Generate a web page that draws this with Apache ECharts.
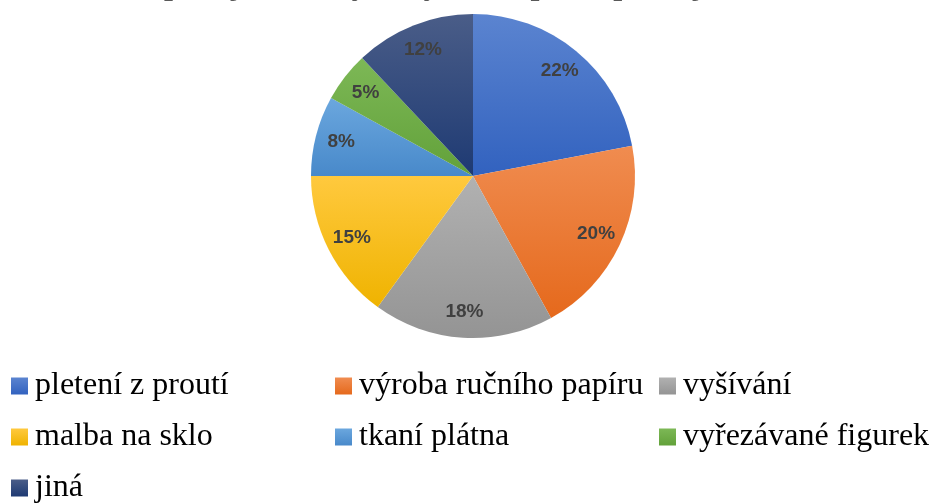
<!DOCTYPE html>
<html>
<head>
<meta charset="utf-8">
<script src="https://cdn.jsdelivr.net/npm/echarts@6/dist/echarts.min.js"></script>
<style>html,body{margin:0;padding:0;background:#fff}#c{width:933px;height:504px}</style>
</head>
<body>
<div id="c"></div>
<script>
var categories = ['pletení z proutí', 'výroba ručního papíru', 'vyšívání', 'malba na sklo', 'tkaní plátna', 'vyřezávané figurek', 'jiná'];
var values = [22, 20, 18, 15, 8, 5, 12];
var topColors = ['#5B84D0', '#F08C50', '#B1B1B1', '#FFC93E', '#6BA7DE', '#7DB856', '#4A5D88'];
var bottomColors = ['#3262BF', '#E5691C', '#949494', '#EFB300', '#4889CA', '#62A13A', '#1E3A73'];
var titleText = 'Zastoupení jednotlivých výrobků podle prodeje v obchodě';

var chart = echarts.init(document.getElementById('c'), null, {renderer: 'canvas'});

function grad(i) {
  return new echarts.graphic.LinearGradient(0, 0, 0, 1, [
    {offset: 0, color: topColors[i]},
    {offset: 1, color: bottomColors[i]}
  ]);
}

var pieData = categories.map(function (n, i) {
  return {name: n, value: values[i], itemStyle: {color: grad(i)}};
});
var labelData = categories.map(function (n, i) {
  return {name: n, value: values[i]};
});

var legendText = {fontFamily: 'Liberation Serif', fontSize: 32, color: '#000', lineHeight: 34, padding: [0, 0, 0, 2]};
function legend(left, names) {
  return {
    orient: 'vertical', left: left, top: 369, height: 200, padding: 0,
    itemWidth: 17, itemHeight: 17, itemGap: 17,
    icon: 'rect', selectedMode: false,
    textStyle: legendText, data: names
  };
}

chart.setOption({
  animation: false,
  graphic: [{
    type: 'text', left: 'center', top: -30,
    style: {text: titleText, fontFamily: 'Liberation Serif', fontWeight: 'bold', fontSize: 32, fill: '#595959'}
  }],
  legend: [
    legend(11, [categories[0], categories[3], categories[6]]),
    legend(335, [categories[1], categories[4]]),
    legend(659, [categories[2], categories[5]])
  ],
  series: [{
    type: 'pie', center: [473, 176], radius: [0, 162], startAngle: 90, clockwise: true,
    label: {show: false}, labelLine: {show: false}, silent: true,
    itemStyle: {borderWidth: 0},
    data: pieData
  }, {
    type: 'pie', center: [473, 176], radius: [104, 162], startAngle: 90, clockwise: true,
    silent: true, labelLine: {show: false},
    itemStyle: {color: 'rgba(0,0,0,0)', borderWidth: 0},
    label: {show: true, position: 'inside', formatter: '{c}%', fontFamily: 'Liberation Sans', fontWeight: 'bold', fontSize: 19, color: '#404040'},
    data: labelData
  }]
});
</script>
</body>
</html>
